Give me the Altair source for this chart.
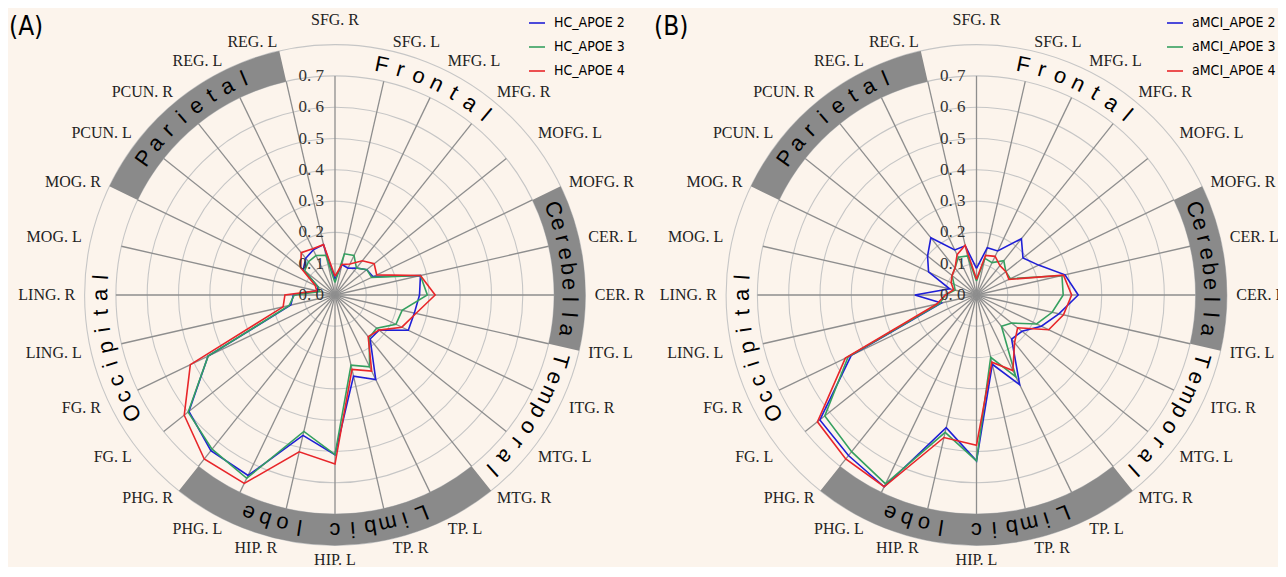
import math
import altair as alt
import pandas as pd

# ---------------- data ----------------
LABELS = ["SFG. R", "SFG. L", "MFG. L", "MFG. R", "MOFG. L", "MOFG. R", "CER. L", "CER. R",
          "ITG. L", "ITG. R", "MTG. L", "MTG. R", "TP. L", "TP. R", "HIP. L", "HIP. R",
          "PHG. L", "PHG. R", "FG. L", "FG. R", "LING. L", "LING. R", "MOG. L", "MOG. R",
          "PCUN. L", "PCUN. R", "REG. L", "REG. L"]

HC_APOE2 = [0.05, 0.10, 0.095, 0.11, 0.13, 0.135, 0.28, 0.27, 0.26, 0.26, 0.18, 0.18, 0.30, 0.266,
            0.51, 0.46, 0.64, 0.636, 0.597, 0.45, 0.145, 0.133, 0.06, 0.06, 0.13, 0.15, 0.16, 0.165]
HC_APOE3 = [0.04, 0.135, 0.14, 0.11, 0.13, 0.13, 0.28, 0.295, 0.22, 0.216, 0.17, 0.175, 0.255, 0.23,
            0.51, 0.447, 0.65, 0.63, 0.60, 0.45, 0.15, 0.13, 0.05, 0.06, 0.124, 0.136, 0.14, 0.13]
HC_APOE4 = [0.06, 0.10, 0.11, 0.14, 0.16, 0.148, 0.28, 0.32, 0.265, 0.237, 0.18, 0.17, 0.27, 0.244,
            0.54, 0.514, 0.668, 0.67, 0.616, 0.513, 0.17, 0.16, 0.06, 0.07, 0.14, 0.173, 0.164, 0.165]

AMCI_APOE2 = [0.085, 0.155, 0.156, 0.23, 0.19, 0.22, 0.29, 0.325, 0.27, 0.23, 0.186, 0.18, 0.318, 0.227,
              0.53, 0.435, 0.68, 0.656, 0.64, 0.444, 0.115, 0.197, 0.088, 0.17, 0.20, 0.234, 0.16, 0.161]
AMCI_APOE3 = [0.045, 0.12, 0.115, 0.14, 0.12, 0.12, 0.28, 0.277, 0.248, 0.213, 0.144, 0.128, 0.29, 0.204,
              0.53, 0.45, 0.67, 0.64, 0.62, 0.455, 0.12, 0.10, 0.07, 0.08, 0.10, 0.11, 0.134, 0.128]
AMCI_APOE4 = [0.05, 0.13, 0.137, 0.12, 0.12, 0.115, 0.285, 0.304, 0.285, 0.256, 0.168, 0.195, 0.268, 0.22,
              0.48, 0.467, 0.68, 0.67, 0.65, 0.465, 0.13, 0.10, 0.075, 0.09, 0.10, 0.11, 0.143, 0.163]

SERIES_A = ["HC_APOE 2", "HC_APOE 3", "HC_APOE 4"]
SERIES_B = ["aMCI_APOE 2", "aMCI_APOE 3", "aMCI_APOE 4"]

TICKS = [0.0, 0.1, 0.2, 0.3, 0.4, 0.5, 0.6, 0.7]
TICK_TEXT = ["0. 0", "0. 1", "0. 2", "0. 3", "0. 4", "0. 5", "0. 6", "0. 7"]
RINGS = [0.1, 0.2, 0.3, 0.4, 0.5, 0.6, 0.7, 0.8]

REGIONS = ["Frontal", "Cerebella", "Temporal", "Limbic lobe", "Occipital", "Parietal"]
REGION_START = [27, 5, 8, 11, 17, 23]     # spoke index where the region begins
REGION_END = [33, 8, 11, 17, 23, 27]      # spoke index where it ends (wraps past 28)
REGION_FILLED = [False, True, False, True, False, True]

# ---------------- styles / layout ----------------
N = len(LABELS)
BG = "#fcf4ec"
COLORS = ["#1f1fd6", "#35a060", "#e8262a"]
SPOKE_COLOR = "#8e8e8e"
RING_COLOR = "#c6c6c6"
BAND_COLOR = "#8a8a8a"
REGION_STEP = [4.75, 3.75, 4.56, 4.34, 4.3, 4.5]   # degrees between letters
SERIF = "Liberation Serif"
SANS = "Liberation Sans"
NARROW = "Liberation Sans Narrow, DejaVu Sans Condensed, Liberation Sans"

K = 313.0            # pixels per data unit
W, H = 1270, 559     # whole drawing area
CX_A, CX_B, CY = 327.0, 968.5, 287.0   # panel centres (pixels in the view)
SPOKE_R = 0.7
BAND_IN, BAND_OUT = 0.7, 0.8
TEXT_R = 0.75
LAB_R_SIDE, LAB_R_TOP, LAB_R_BOT = 0.83, 0.852, 0.822

XS = alt.Scale(domain=[-CX_A / K, (W - CX_A) / K], nice=False, zero=False)
YS = alt.Scale(domain=[-(H - CY) / K, CY / K], nice=False, zero=False)
RS = alt.Scale(type="linear", domain=[0, 1], range=[0, K], zero=True)
OFF_B = (CX_B - CX_A) / K
TWO_PI = "2 * PI"


def X(f):
    return alt.X(f, type="quantitative", scale=XS, axis=None)


def Y(f):
    return alt.Y(f, type="quantitative", scale=YS, axis=None)


letters = []
for reg, s, e, step in zip(REGIONS, REGION_START, REGION_END, REGION_STEP):
    c = (s + e) / 2 * 360.0 / N
    n = len(reg)
    for k, ch in enumerate(reg):
        d = c + (k - (n - 1) / 2) * step
        letters.append({"ch": ch, "deg": d % 360})
LETTERS_DF = pd.DataFrame(letters)

BANDS_DF = pd.DataFrame({
    "s": [s for s, f in zip(REGION_START, REGION_FILLED) if f],
    "e": [e for e, f in zip(REGION_END, REGION_FILLED) if f],
})


def panel(series, values, off, channel, tag, tag_x, legend_x):
    rings = alt.Chart(pd.DataFrame({"r": RINGS})).transform_calculate(
        x0=f"{off}", y0="0", t0="0", t1=TWO_PI, r2="datum.r"
    ).mark_arc(filled=False, stroke=RING_COLOR, strokeWidth=1.1).encode(
        x=X("x0"), y=Y("y0"),
        theta=alt.Theta("t0:Q", scale=None), theta2="t1:Q",
        radius=alt.Radius("r:Q", scale=RS), radius2="r2:Q",
    )

    spokes = alt.Chart(pd.DataFrame({"i": list(range(N))})).transform_calculate(
        a=f"datum.i * 2 * PI / {N}", x0=f"{off}", y0="0",
    ).transform_calculate(
        x1=f"{off} + {SPOKE_R} * sin(datum.a)", y1=f"{SPOKE_R} * cos(datum.a)"
    ).mark_rule(color=SPOKE_COLOR, strokeWidth=1.3).encode(
        x=X("x0"), y=Y("y0"), x2="x1:Q", y2="y1:Q"
    )

    bands = alt.Chart(BANDS_DF).transform_calculate(
        t0=f"datum.s * 2 * PI / {N}", t1=f"datum.e * 2 * PI / {N}",
        ro=f"{BAND_OUT}", ri=f"{BAND_IN}", x0=f"{off}", y0="0",
    ).mark_arc(fill=BAND_COLOR, strokeWidth=0).encode(
        x=X("x0"), y=Y("y0"),
        theta=alt.Theta("t0:Q", scale=None), theta2="t1:Q",
        radius=alt.Radius("ro:Q", scale=RS), radius2="ri:Q",
    )

    rows = []
    for name, vals in zip(series, values):
        for i in range(N + 1):
            rows.append({"s": name, "i": i, "v": vals[i % N]})
    leg = alt.Legend(orient="none", legendX=legend_x, legendY=6, title=None,
                     symbolType="stroke", symbolSize=256, symbolStrokeWidth=1.6,
                     labelFont=NARROW, labelFontSize=14, labelColor="black",
                     labelOffset=8, rowPadding=8, padding=0, labelLimit=200)
    sc = alt.Scale(domain=series, range=COLORS)
    enc = alt.Color("s:N", scale=sc, legend=leg) if channel == "color" else alt.Stroke("s:N", scale=sc, legend=leg)
    lines = alt.Chart(pd.DataFrame(rows)).transform_calculate(
        a=f"datum.i * 2 * PI / {N}"
    ).transform_calculate(
        x=f"{off} + datum.v * sin(datum.a)", y="datum.v * cos(datum.a)"
    ).mark_line(strokeWidth=1.6).encode(
        x=X("x"), y=Y("y"), order="i:Q", **{channel: enc}
    )

    ticks = alt.Chart(pd.DataFrame({"v": TICKS, "t": TICK_TEXT})).transform_calculate(
        x0=f"{off}"
    ).mark_text(align="right", baseline="middle", dx=-11, font=SERIF, fontSize=17, color="#333333").encode(
        x=X("x0"), y=Y("v"), text="t:N"
    )

    lab_df = pd.DataFrame({"i": list(range(N)), "lab": LABELS})

    def lab_layer(filt, r, **kw):
        return alt.Chart(lab_df).transform_filter(filt).transform_calculate(
            a=f"datum.i * 2 * PI / {N}"
        ).transform_calculate(
            x=f"{off} + {r} * sin(datum.a)", y=f"{r} * cos(datum.a)"
        ).mark_text(font=SERIF, fontSize=16, color="#222222", **kw).encode(
            x=X("x"), y=Y("y"), text="lab:N"
        )

    half = N // 2
    labs = [
        lab_layer(f"datum.i > 0 && datum.i < {half}", LAB_R_SIDE, align="left", baseline="middle"),
        lab_layer(f"datum.i > {half}", LAB_R_SIDE, align="right", baseline="middle"),
        lab_layer("datum.i == 0", LAB_R_TOP, align="center", baseline="bottom"),
        lab_layer(f"datum.i == {half}", LAB_R_BOT, align="center", baseline="top"),
    ]

    region_text = alt.Chart(LETTERS_DF).transform_calculate(
        a="datum.deg * PI / 180"
    ).transform_calculate(
        x=f"{off} + {TEXT_R} * sin(datum.a)", y=f"{TEXT_R} * cos(datum.a)"
    ).mark_text(font=SANS, fontSize=22, color="black", align="center", baseline="middle").encode(
        x=X("x"), y=Y("y"), text="ch:N", angle=alt.Angle("deg:Q", scale=None)
    )

    tag_mark = alt.Chart(pd.DataFrame({"t": [tag]})).mark_text(
        font=NARROW, fontSize=26, align="left", baseline="middle", color="black"
    ).encode(x=alt.value(tag_x), y=alt.value(19), text="t:N")

    return [rings, spokes, bands, lines, ticks, *labs, region_text, tag_mark]


layers = (panel(SERIES_A, [HC_APOE2, HC_APOE3, HC_APOE4], 0.0, "color", "(A)", 1, 520)
          + panel(SERIES_B, [AMCI_APOE2, AMCI_APOE3, AMCI_APOE4], OFF_B, "stroke", "(B)", 646, 1158))

chart = alt.layer(*layers).properties(
    width=W, height=H,
    autosize=alt.AutoSizeParams(type="none"), padding=0, background=BG
).configure_view(stroke=None)

chart.save("out.html", embed_options={"renderer": "svg", "actions": False})
